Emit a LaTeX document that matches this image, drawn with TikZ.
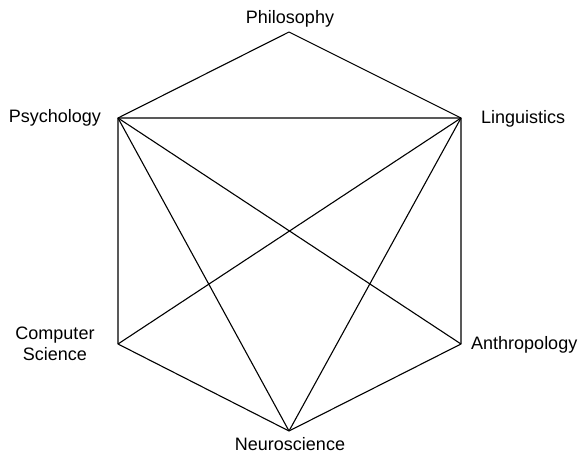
\documentclass[tikz,border=0pt]{standalone}
\usepackage{fontspec}
\setmainfont{Liberation Sans}
\begin{document}
\begin{tikzpicture}[x=1pt,y=-1pt,
  field/.style={inner sep=0pt,font=\fontsize{18}{21}\selectfont},
  link/.style={line width=1.1pt,line join=round}]

\useasboundingbox (0,0) rectangle (581,454);

% corners of the hexagon
\coordinate (phi) at (289,32);
\coordinate (psy) at (118,118);
\coordinate (lin) at (461,118);
\coordinate (com) at (118,344);
\coordinate (ant) at (461,344);
\coordinate (neu) at (289,431);

% labels
\node[field,anchor=base] (philabel) at (290,24) {Philosophy};
\node[field,anchor=base east] (psylabel) at (101,123) {Psychology};
\node[field,anchor=base west] (linlabel) at (481,124) {Linguistics};
\node[field,anchor=base,align=center] (comlabel) at (55,360) {Computer\\Science};
\node[field,anchor=base west] (antlabel) at (471,349) {Anthropology};
\node[field,anchor=base] (neulabel) at (290,450) {Neuroscience};

% edges
\draw[link] (psy) -- (phi) -- (lin);
\draw[link] (lin) -- (ant) -- (neu) -- (com) -- (psy) -- (lin);
\foreach \a/\b in {psy/neu,psy/ant,lin/com,lin/neu}
  \draw[link] (\a) -- (\b);
\end{tikzpicture}
\end{document}
